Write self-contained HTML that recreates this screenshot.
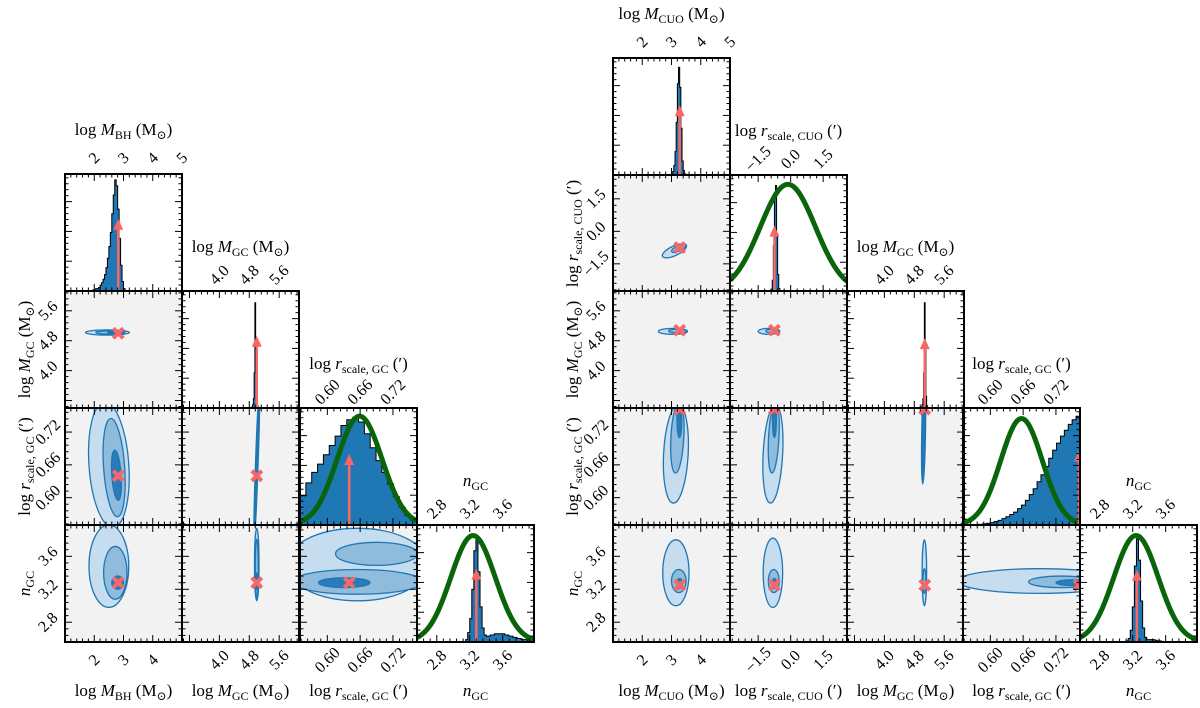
<!DOCTYPE html>
<html><head><meta charset="utf-8"><style>
html,body{margin:0;padding:0;background:#fff;}
svg{display:block;font-family:"Liberation Serif","DejaVu Serif",serif;}
</style></head><body>
<svg id="fig" width="1200" height="708" viewBox="0 0 1200 708" xmlns="http://www.w3.org/2000/svg"></svg>
<script>
// ---------- data ----------
const varMBH = {lo:1, hi:5, ticks:[2,3,4], topTicks:[2,3,4,5], labels:["2","3","4"], topLabels:["2","3","4","5"], title:'log <M>M</M><S>BH</S> (M<S>⊙</S>)'};
const varMCUO = {lo:1, hi:5, ticks:[2,3,4], topTicks:[2,3,4,5], labels:["2","3","4"], topLabels:["2","3","4","5"], title:'log <M>M</M><S>CUO</S> (M<S>⊙</S>)'};
const varRCUO = {lo:-2.8, hi:2.6, ticks:[-1.5,0,1.5], topTicks:[-1.5,0,1.5], labels:["−1.5","0.0","1.5"], topLabels:["−1.5","0.0","1.5"], title:'log <M>r</M><S>scale, CUO</S> (′)'};
const varMGC = {lo:3.0, hi:6.13, ticks:[4.0,4.8,5.6], topTicks:[4.0,4.8,5.6], labels:["4.0","4.8","5.6"], topLabels:["4.0","4.8","5.6"], title:'log <M>M</M><S>GC</S> (M<S>⊙</S>)'};
const varRGC = {lo:0.55, hi:0.764, ticks:[0.60,0.66,0.72], topTicks:[0.60,0.66,0.72], labels:["0.60","0.66","0.72"], topLabels:["0.60","0.66","0.72"], title:'log <M>r</M><S>scale, GC</S> (′)'};
const varNGC = {lo:2.56, hi:3.98, ticks:[2.8,3.2,3.6], topTicks:[2.8,3.2,3.6], labels:["2.8","3.2","3.6"], topLabels:["2.8","3.2","3.6"], title:'<M>n</M><S>GC</S>'};

const leftTruths = [2.82, 5.0, 0.640, 3.28];
const rightTruths = [3.28, -0.75, 5.08, 0.762, 3.25];
const leftArrowH = [0.6, 0.6, 0.59, 0.61];
const rightArrowH = [0.58, 0.55, 0.58, 0.62, 0.6];

const histLeftMBH = [1.95, 0.05, [0.01,0.01,0.02,0.02,0.03,0.05,0.07,0.1,0.14,0.2,0.28,0.38,0.5,0.66,0.82,0.95,0.9,0.7,0.45,0.22,0.08,0.02,0.005]];
const histLeftMGC = [4.85, 0.02, [0.005,0.01,0.03,0.08,0.3,0.9,0.5,0.1,0.02,0.005]];
const histLeftRGC = [0.55, 0.0107, [0.25,0.36,0.45,0.52,0.6,0.68,0.76,0.85,0.9,0.92,0.88,0.78,0.66,0.55,0.45,0.35,0.24,0.15,0.08,0.04]];
const histLeftNGC = [3.15, 0.025, [0.02,0.08,0.2,0.45,0.78,0.87,0.6,0.3,0.12,0.06,0.05,0.05,0.06,0.06,0.07,0.07,0.07,0.07,0.07,0.06,0.06,0.05,0.05,0.04,0.04,0.03,0.03,0.02,0.02,0.02,0.01,0.01,0.01]];
const histRightMCUO = [3.0, 0.04, [0.01,0.03,0.08,0.2,0.45,0.78,0.92,0.75,0.4,0.12,0.04,0.01,0.005]];
const histRightRCUO = [-0.9, 0.05, [0.02,0.1,0.4,0.85,0.91,0.5,0.15,0.03,0.01]];
const histRightMGC = [4.97, 0.02, [0.005,0.01,0.03,0.08,0.3,0.9,0.5,0.1,0.02,0.005]];
const histRightRGC = [0.55, 0.00713, [0,0,0,0,0.005,0.01,0.015,0.02,0.03,0.04,0.055,0.07,0.09,0.11,0.14,0.17,0.21,0.26,0.31,0.37,0.43,0.5,0.57,0.64,0.7,0.76,0.81,0.86,0.9,0.93]];
const histRightNGC = [3.12, 0.025, [0.01,0.03,0.1,0.3,0.65,0.88,0.7,0.35,0.12,0.04,0.02,0.02,0.02,0.02,0.015,0.01,0.01,0.005]];

const leftPriors = [[2, 0.659, 0.041, 0.93], [3, 3.24, 0.27, 0.91]];
const rightPriors = [[1, -0.13, 1.27, 0.92], [3, 0.657, 0.038, 0.91], [4, 3.24, 0.27, 0.91]];

const leftContours = [
 [1,0, 2.45,5.02, 0.75,0.07, 0,0],[1,0, 2.55,5.02, 0.5,0.045, 0,1],[1,0, 2.7,5.02, 0.25,0.025, 0,2],
 [2,0, 2.5,0.66, 0.68,0.115, -4,0],[2,0, 2.68,0.655, 0.36,0.09, -4,1],[2,0, 2.76,0.641, 0.16,0.046, -4,2],
 [3,0, 2.5,3.48, 0.68,0.5, 0,0],[3,0, 2.72,3.4, 0.4,0.32, 0,1],[3,0, 2.8,3.28, 0.2,0.08, 0,2],
 [2,1, 5.0,0.66, 0.035,0.14, 2,0],[2,1, 5.0,0.66, 0.02,0.14, 2,2],
 [3,1, 5.0,3.5, 0.06,0.44, 0,0],[3,1, 5.0,3.45, 0.04,0.36, 0,1],[3,1, 5.0,3.3, 0.025,0.1, 0,2],
 [3,2, 0.655,3.5, 0.13,0.44, 0,0],[3,2, 0.655,3.29, 0.12,0.15, 0,1],[3,2, 0.69,3.63, 0.075,0.14, 0,1],[3,2, 0.631,3.28, 0.047,0.06, 0,2]
];
const rightContours = [
 [1,0, 3.1,-0.9, 0.45,0.22, -25,0],[1,0, 3.25,-0.78, 0.27,0.13, -25,1],[1,0, 3.3,-0.72, 0.1,0.06, -25,2],
 [2,0, 3.05,5.05, 0.5,0.08, 0,0],[2,0, 3.2,5.06, 0.3,0.05, 0,1],
 [2,1, -1.0,5.05, 0.5,0.08, 0,0],[2,1, -0.85,5.06, 0.3,0.05, 0,1],
 [3,0, 3.15,0.68, 0.42,0.09, 3,0],[3,0, 3.2,0.71, 0.22,0.065, 3,1],[3,0, 3.27,0.745, 0.08,0.035, 0,2],
 [3,1, -0.82,0.68, 0.45,0.09, 3,0],[3,1, -0.78,0.71, 0.24,0.065, 3,1],[3,1, -0.75,0.745, 0.09,0.035, 0,2],
 [3,2, 5.05,0.72, 0.05,0.095, 1,0],[3,2, 5.05,0.72, 0.03,0.09, 1,2],
 [4,0, 3.15,3.4, 0.45,0.4, 0,0],[4,0, 3.25,3.3, 0.25,0.14, 0,1],[4,0, 3.28,3.27, 0.1,0.06, 0,2],
 [4,1, -0.82,3.4, 0.45,0.42, 0,0],[4,1, -0.78,3.3, 0.25,0.14, 0,1],[4,1, -0.75,3.27, 0.1,0.06, 0,2],
 [4,2, 5.07,3.4, 0.06,0.4, 0,0],[4,2, 5.07,3.3, 0.04,0.15, 0,1],
 [4,3, 0.69,3.3, 0.15,0.15, 0,0],[4,3, 0.73,3.29, 0.06,0.07, 0,1],[4,3, 0.75,3.28, 0.03,0.035, 0,2]
];

// ---------- drawing ----------
const SZ = 117;
const NS = "http://www.w3.org/2000/svg";
const svg = document.getElementById('fig');
const LEVEL_FILL = ['#c6dcef', '#8fbbdd', '#2b7bba'];
function el(tag, attrs, parent){ const e=document.createElementNS(NS,tag); for(const k in attrs) e.setAttribute(k,attrs[k]); (parent||svg).appendChild(e); return e; }
function fmtTitle(s){ return s.replace(/<M>(.*?)<\/M>/g,'<tspan font-style="italic">$1</tspan>').replace(/<S>(.*?)<\/S>/g,'<tspan font-size="12" dy="4">$1</tspan><tspan dy="-4">\u200b</tspan>'); }
function X(v,x0,val){ return x0 + (val-v.lo)/(v.hi-v.lo)*SZ; }
function Y(v,y0,val){ return y0 + SZ - (val-v.lo)/(v.hi-v.lo)*SZ; }

let clipId = 0;
function drawPlot(cfg){
 const {vars, cols, rows, truths, arrowH, hists, priors, contours, name} = cfg;
 const n = vars.length;
 for(let i=0;i<n;i++){
  for(let j=0;j<=i;j++){
   const x0=cols[j], y0=rows[i];
   const g = el('g',{});
   
   
   const cid='c'+(clipId++);
   const cp=el('clipPath',{id:cid},g); el('rect',{x:x0,y:y0,width:SZ,height:SZ},cp);
   const inner = el('g',{'clip-path':'url(#'+cid+')'},g);
   const vx=vars[j];
   if(i===j){
    const [lo,step,vals]=hists[i];
    let d='M'+X(vx,x0,lo)+','+(y0+SZ);
    vals.forEach((h,k)=>{ const xa=X(vx,x0,lo+k*step), xb=X(vx,x0,lo+(k+1)*step), yy=y0+SZ-h*SZ; d+=' L'+xa+','+yy+' L'+xb+','+yy; });
    d+=' L'+X(vx,x0,lo+vals.length*step)+','+(y0+SZ)+' Z';
    const hp=el('path',{d:d,fill:'#1f77b4',stroke:'#000','stroke-width':1},inner);
    
    
    priors.filter(p=>p[0]===i).forEach(p=>{
     let pd='';
     for(let k=0;k<=120;k++){ const v=vx.lo+(vx.hi-vx.lo)*k/120; const yy=y0+SZ-p[3]*Math.exp(-0.5*Math.pow((v-p[1])/p[2],2))*SZ; pd+=(k?' L':'M')+X(vx,x0,v).toFixed(2)+','+yy.toFixed(2); }
     const gp=el('path',{d:pd,fill:'none',stroke:'#0a640a','stroke-width':5},inner);
     
     
    });
    const ax=X(vx,x0,truths[i]), ay=y0+SZ-arrowH[i]*SZ;
    const ag=el('g',{},inner);
    
    
    el('line',{x1:ax,y1:y0+SZ,x2:ax,y2:ay+8,stroke:'#f86666','stroke-width':2.5},ag);
    el('polygon',{points:(ax-5)+','+(ay+9)+' '+(ax+5)+','+(ay+9)+' '+ax+','+(ay-2),fill:'#f86666'},ag);
   } else {
    const vy=vars[i];
    el('rect',{x:x0,y:y0,width:SZ,height:SZ,fill:'#f2f2f2'},inner);
    contours.filter(c=>c[0]===i&&c[1]===j).sort((a,b)=>a[7]-b[7]).forEach(c=>{
     const cx=X(vx,x0,c[2]), cy=Y(vy,y0,c[3]);
     const rx=c[4]/(vx.hi-vx.lo)*SZ, ry=c[5]/(vy.hi-vy.lo)*SZ;
     const e=el('ellipse',{cx:cx,cy:cy,rx:rx,ry:ry,transform:'rotate('+c[6]+' '+cx+' '+cy+')',fill:LEVEL_FILL[c[7]],stroke:'#1f77b4','stroke-width':1.3},inner);
     
     
    });
    const mx=X(vx,x0,truths[j]), my=Y(vy,y0,truths[i]);
    const m=el('path',{d:'M'+(mx-5)+','+(my-5)+' L'+(mx+5)+','+(my+5)+' M'+(mx+5)+','+(my-5)+' L'+(mx-5)+','+(my+5),stroke:'#f86666','stroke-width':4},inner);
    
    
   }
   const tk=el('g',{stroke:'#000','stroke-width':1},g);
   const xt = vx.ticks; const xstep=(xt[1]-xt[0])/5;
   for(let v=Math.ceil((vx.lo-xt[0])/xstep)*xstep+xt[0]; v<=vx.hi+1e-9; v+=xstep){
    const major=Math.abs(((v-xt[0])/(xt[1]-xt[0]))-Math.round((v-xt[0])/(xt[1]-xt[0])))<1e-6;
    const L=major?7:3.5, px=X(vx,x0,v);
    el('line',{x1:px,y1:y0+SZ,x2:px,y2:y0+SZ-L},tk); el('line',{x1:px,y1:y0,x2:px,y2:y0+L},tk);
   }
   if(i===j){
    for(let k=1;k<20;k++){ const f=k/20*1.05; if(f>=1) break; const major=k%5===0; const L=major?7:3.5, py=y0+SZ-f*SZ*0.97;
     el('line',{x1:x0,y1:py,x2:x0+L,y2:py},tk); el('line',{x1:x0+SZ,y1:py,x2:x0+SZ-L,y2:py},tk); }
   } else {
    const vy=vars[i], yt=vy.ticks, ystep=(yt[1]-yt[0])/5;
    for(let v=Math.ceil((vy.lo-yt[0])/ystep)*ystep+yt[0]; v<=vy.hi+1e-9; v+=ystep){
     const major=Math.abs(((v-yt[0])/(yt[1]-yt[0]))-Math.round((v-yt[0])/(yt[1]-yt[0])))<1e-6;
     const L=major?7:3.5, py=Y(vy,y0,v);
     el('line',{x1:x0,y1:py,x2:x0+L,y2:py},tk); el('line',{x1:x0+SZ,y1:py,x2:x0+SZ-L,y2:py},tk);
    }
   }
   el('rect',{x:x0,y:y0,width:SZ,height:SZ,fill:'none',stroke:'#000','stroke-width':2},g);
   if(i===n-1){
    vx.ticks.forEach((t,k)=>{ const px=X(vx,x0,t), py=y0+SZ+18;
     const tl=el('text',{x:px,y:py+5,'text-anchor':'middle','font-size':16,transform:'rotate(-45 '+px+' '+py+')'});
     tl.textContent=vx.labels[k];
     
     
    });
    const tt=el('text',{x:x0+SZ/2,y:y0+SZ+54,'text-anchor':'middle','font-size':17});
    tt.innerHTML=fmtTitle(vx.title);
    
    
   }
   if(j===0 && i>0){
    const vy=vars[i];
    vy.ticks.forEach((t,k)=>{ const py=Y(vy,y0,t), px=x0-17;
     const tl=el('text',{x:px,y:py+5,'text-anchor':'middle','font-size':16,transform:'rotate(-45 '+px+' '+py+')'});
     tl.textContent=vy.labels[k];
     
     
    });
    const tx=x0-41, ty=y0+SZ/2;
    const tt=el('text',{x:tx,y:ty+6,'text-anchor':'middle','font-size':17,transform:'rotate(-90 '+tx+' '+ty+')'});
    tt.innerHTML=fmtTitle(vy.title);
    
    
   }
   if(i===j){
    vx.topTicks.forEach((t,k)=>{ const px=X(vx,x0,t), py=y0-16;
     const tl=el('text',{x:px,y:py+5,'text-anchor':'middle','font-size':16,transform:'rotate(-45 '+px+' '+py+')'});
     tl.textContent=vx.topLabels[k];
     
     
    });
    const tt=el('text',{x:x0+SZ/2,y:y0-39,'text-anchor':'middle','font-size':17});
    tt.innerHTML=fmtTitle(vx.title);
    
    
   }
  }
 }
}

drawPlot({name:'left', vars:[varMBH,varMGC,varRGC,varNGC], cols:[65,182,300,417], rows:[174,291,408,525],
 truths:leftTruths, arrowH:leftArrowH, hists:[histLeftMBH,histLeftMGC,histLeftRGC,histLeftNGC], priors:leftPriors, contours:leftContours});
drawPlot({name:'right', vars:[varMCUO,varRCUO,varMGC,varRGC,varNGC], cols:[613,730,847,963,1080], rows:[58,175,291,408,525],
 truths:rightTruths, arrowH:rightArrowH, hists:[histRightMCUO,histRightRCUO,histRightMGC,histRightRGC,histRightNGC], priors:rightPriors, contours:rightContours});
</script>
</body></html>
